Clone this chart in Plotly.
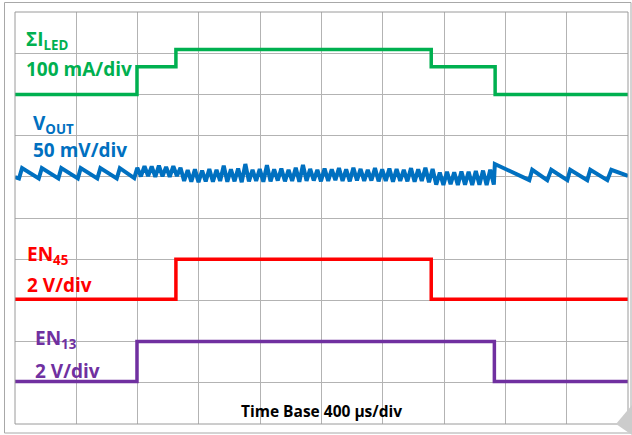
import plotly.graph_objects as go

# ---------------- data (time in µs, amplitude in screen divisions) ----------------
TIME_RANGE = [0, 4000]
DIV_RANGE = [0, 10]

ILED_T = [0, 796, 1050, 2716, 3133, 4000]
ILED_V = [8.00, 8.67, 9.09, 8.67, 8.00, 8.00]

EN45_T = [0, 1050, 2716, 4000]
EN45_V = [3.03, 4.00, 3.03, 3.03]

EN13_T = [0, 796, 3128, 4000]
EN13_V = [1.03, 2.00, 1.03, 1.03]

# VOUT: sawtooth before the load step
VOUT_PRE_T = [0, 26, 46, 155, 175, 283, 302, 410, 429, 537, 557, 664, 684, 778, 798]
VOUT_PRE_V = [5.99, 5.96, 6.21, 5.96, 6.21, 5.96, 6.21, 5.96, 6.21, 5.96, 6.21, 5.96, 6.21, 5.97, 6.22]

# VOUT: ripple record while LEDs are loaded (sample period below)
VOUT_RIPPLE_T0 = 798
VOUT_RIPPLE_DT = 23.5
VOUT_RIPPLE_V = [
    6.01, 6.26, 6.02, 6.25, 6.00, 6.27, 6.01, 6.24, 6.00, 6.26, 6.02, 6.22,
    5.90, 6.16, 5.88, 6.18, 5.87, 6.15, 5.89, 6.19, 5.88, 6.17, 5.90, 6.27,
    5.88, 6.18, 5.89, 6.20, 5.87, 6.31, 5.89, 6.17, 5.90, 6.19, 5.88, 6.28,
    5.89, 6.18, 5.91, 6.20, 5.89, 6.17, 5.90, 6.22, 5.88, 6.29, 5.90, 6.19,
    5.91, 6.17, 5.89, 6.20, 5.90, 6.18, 5.92, 6.21, 5.90, 6.18, 5.89, 6.22,
    5.91, 6.19, 5.90, 6.17, 5.91, 6.21, 5.89, 6.18, 5.90, 6.20, 5.88, 6.19,
    5.90, 6.17, 5.89, 6.21, 5.88, 6.18, 5.90, 6.22, 5.87, 6.19,
    5.81, 6.10, 5.80, 6.12, 5.82, 6.11, 5.80, 6.13, 5.81, 6.12, 5.80, 6.14,
    5.81, 6.15, 5.80, 6.17, 5.81,
]

# VOUT: sawtooth after the load is removed
VOUT_POST_T = [3131, 3356, 3375, 3473, 3499, 3604, 3623, 3734, 3754, 3865, 3891, 4000]
VOUT_POST_V = [6.31, 5.92, 6.17, 5.92, 6.17, 5.92, 6.17, 5.92, 6.17, 5.92, 6.17, 6.02]

LABELS = {
    "iled": ["ΣI<sub>LED</sub>", "100 mA/div"],
    "vout": ["V<sub>OUT</sub>", "50 mV/div"],
    "en45": ["EN<sub>45</sub>", "2 V/div"],
    "en13": ["EN<sub>13</sub>", "2 V/div"],
}
TIME_BASE_TEXT = "Time Base 400 µs/div"

GREEN = "#00B050"
BLUE = "#0070C0"
RED = "#FF0000"
PURPLE = "#7030A0"

# ---------------- figure ----------------
W, H = 632, 435
ML, MR, MT, MB = 15, 4, 12, 11
PW, PH = W - ML - MR, H - MT - MB


def px(x):
    return (x - ML) / PW


def py(y):
    return (H - MB - y) / PH


vout_t = (VOUT_PRE_T
          + [VOUT_RIPPLE_T0 + VOUT_RIPPLE_DT * (i + 1) for i in range(len(VOUT_RIPPLE_V))]
          + VOUT_POST_T)
vout_v = VOUT_PRE_V + VOUT_RIPPLE_V + VOUT_POST_V

fig = go.Figure()
fig.add_trace(go.Scatter(x=ILED_T, y=ILED_V, mode="lines",
                         line=dict(color=GREEN, width=3.5, shape="hv")))
fig.add_trace(go.Scatter(x=vout_t, y=vout_v, mode="lines",
                         line=dict(color=BLUE, width=4)))
fig.add_trace(go.Scatter(x=EN45_T, y=EN45_V, mode="lines",
                         line=dict(color=RED, width=3.5, shape="hv")))
fig.add_trace(go.Scatter(x=EN13_T, y=EN13_V, mode="lines",
                         line=dict(color=PURPLE, width=3.5, shape="hv")))

shapes = []
# white label boxes (between grid and traces)
for (x0, y0, x1, y1) in [(20, 33, 136, 90), (25, 112, 136, 160),
                         (25, 236, 93, 311), (27, 332, 108, 393),
                         (232, 395, 410, 410)]:
    shapes.append(dict(type="rect", xref="paper", yref="paper", layer="between",
                       x0=px(x0), x1=px(x1), y0=py(y1), y1=py(y0),
                       fillcolor="white", line=dict(width=0)))
# plot border
shapes.append(dict(type="rect", xref="paper", yref="paper", layer="above",
                   x0=0, x1=1, y0=0, y1=1, line=dict(color="#9a9a9a", width=1)))
# outer frame
shapes.append(dict(type="rect", xref="paper", yref="paper", layer="above",
                   x0=px(4.5), x1=px(631), y0=py(433), y1=py(2.5),
                   line=dict(color="#a8a8a8", width=1)))
# page-curl corner
shapes.append(dict(type="path", xref="paper", yref="paper", layer="above",
                   path=f"M {px(616)} {py(424)} L {px(632)} {py(405)} L {px(632)} {py(435)} Z",
                   fillcolor="#cccccc", line=dict(width=0)))

FONT = "Open Sans"
annotations = []
label_pos = [("iled", GREEN, 24, 40, 69),
             ("vout", BLUE, 31, 124, 150),
             ("en45", RED, 25, 255, 285),
             ("en13", PURPLE, 33, 339, 371)]
for key, col, x, y1, y2 in label_pos:
    for text, yy in zip(LABELS[key], (y1, y2)):
        annotations.append(dict(text=f"<b>{text}</b>", xref="paper", yref="paper",
                                x=px(x), y=py(yy), xanchor="left", yanchor="middle",
                                showarrow=False, font=dict(family=FONT, size=19, color=col)))
annotations.append(dict(text=f"<b>{TIME_BASE_TEXT}</b>", xref="paper", yref="paper",
                        x=px(321.5), y=py(411), xanchor="center", yanchor="middle",
                        showarrow=False, font=dict(family=FONT, size=15.5, color="black")))

fig.update_layout(
    width=W, height=H,
    margin=dict(l=ML, r=MR, t=MT, b=MB, pad=0),
    paper_bgcolor="white", plot_bgcolor="white",
    showlegend=False,
    shapes=shapes, annotations=annotations,
    xaxis=dict(range=TIME_RANGE, dtick=400, showgrid=True, gridcolor="#b3b3b3", gridwidth=1,
               showticklabels=False, ticks="", zeroline=False, showline=False, fixedrange=True),
    yaxis=dict(range=DIV_RANGE, dtick=1, showgrid=True, gridcolor="#b3b3b3", gridwidth=1,
               showticklabels=False, ticks="", zeroline=False, showline=False, fixedrange=True),
)

fig.write_html("out.html")
